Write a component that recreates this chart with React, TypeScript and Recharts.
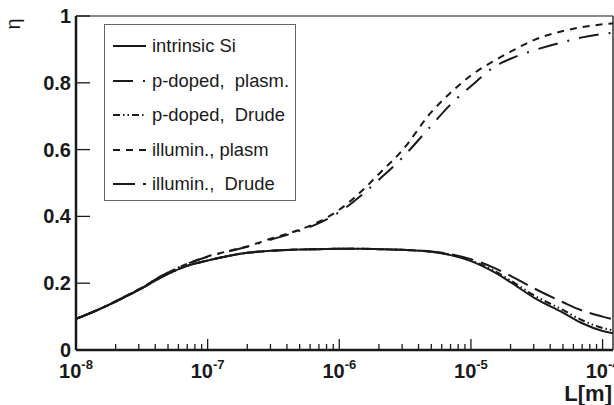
import { LineChart, Line, XAxis, YAxis, Legend, ReferenceLine } from "recharts";

// length L [m], log spaced
const lengths = [
  1e-8, 1.5e-8, 2e-8, 3e-8, 5e-8, 7e-8, 1e-7, 1.5e-7, 2e-7, 3e-7, 5e-7, 7e-7, 1e-6,
  1.5e-6, 2e-6, 3e-6, 5e-6, 7e-6, 1e-5, 1.5e-5, 2e-5, 3e-5, 5e-5, 7e-5, 1e-4, 1.2e-4,
];

const intrinsicSi = [
  0.093, 0.122, 0.145, 0.18, 0.228, 0.252, 0.268, 0.283, 0.291, 0.297, 0.301, 0.302, 0.303,
  0.303, 0.302, 0.3, 0.294, 0.284, 0.266, 0.233, 0.203, 0.157, 0.112, 0.08, 0.057, 0.05,
];
const pDopedPlasm = [
  0.093, 0.122, 0.146, 0.182, 0.232, 0.258, 0.279, 0.297, 0.309, 0.33, 0.357, 0.38, 0.413,
  0.466, 0.51, 0.575, 0.672, 0.735, 0.79, 0.847, 0.872, 0.897, 0.922, 0.936, 0.946, 0.95,
];
const pDopedDrude = [
  0.093, 0.122, 0.145, 0.18, 0.228, 0.252, 0.268, 0.283, 0.291, 0.297, 0.301, 0.302, 0.303,
  0.303, 0.302, 0.3, 0.294, 0.285, 0.268, 0.237, 0.208, 0.164, 0.12, 0.089, 0.066, 0.059,
];
const illuminPlasm = [
  0.093, 0.122, 0.146, 0.182, 0.232, 0.258, 0.28, 0.298, 0.31, 0.333, 0.36, 0.384, 0.42,
  0.478, 0.527, 0.597, 0.712, 0.77, 0.822, 0.866, 0.893, 0.928, 0.955, 0.967, 0.975, 0.978,
];
const illuminDrude = [
  0.093, 0.122, 0.145, 0.18, 0.228, 0.252, 0.268, 0.283, 0.291, 0.297, 0.301, 0.302, 0.303,
  0.303, 0.302, 0.3, 0.295, 0.287, 0.272, 0.246, 0.222, 0.185, 0.143, 0.118, 0.1, 0.092,
];

const seriesNames = ["intrinsic Si", "p-doped,  plasm.", "p-doped,  Drude", "illumin., plasm", "illumin.,  Drude"];
const seriesKeys = ["intrinsic", "pPlasm", "pDrude", "iPlasm", "iDrude"];
const seriesValues = [intrinsicSi, pDopedPlasm, pDopedDrude, illuminPlasm, illuminDrude];
const seriesDash = ["", "20 10 2 10", "7 3 1.5 3 1.5 3", "7 6", "22 8"];

const majorX = [1e-8, 1e-7, 1e-6, 1e-5, 1e-4];
const minorX = [-8, -7, -6, -5].flatMap((e) => [2, 3, 4, 5, 6, 7, 8, 9].map((m) => m * Math.pow(10, e)));
const xTicks = [...majorX, ...minorX].sort((a, b) => a - b);
const yTicks = [0, 0.2, 0.4, 0.6, 0.8, 1];

const FONT = '"Liberation Sans", Arial, Helvetica, sans-serif';
const INK = "#1a1a1a";

const rows = lengths.map((L, i) => {
  const r: Record<string, number> = { L };
  seriesKeys.forEach((k, j) => (r[k] = seriesValues[j][i]));
  return r;
});

const XTick = (props: any) => {
  const { x, y, payload } = props;
  const v = payload.value as number;
  const exp = Math.round(Math.log10(v));
  const major = Math.abs(v - Math.pow(10, exp)) / v < 1e-6;
  return (
    <g>
      <line x1={x} x2={x} y1={y} y2={y - (major ? 11 : 6)} stroke={INK} strokeWidth={1.3} />
      {major && (
        <text x={x} y={y + 28} textAnchor="middle" fontFamily={FONT} fontWeight="bold" fontSize={20} fill={INK}>
          10
          <tspan dy={-9} fontSize={13}>
            {exp}
          </tspan>
        </text>
      )}
    </g>
  );
};

const YTick = (props: any) => {
  const { x, y, payload } = props;
  return (
    <g>
      <line x1={x} x2={x + 14} y1={y} y2={y} stroke={INK} strokeWidth={1.3} />
      <text x={x - 5} y={y + 7} textAnchor="end" fontFamily={FONT} fontWeight="bold" fontSize={20} fill={INK}>
        {payload.value}
      </text>
    </g>
  );
};

const LegendBox = () => (
  <div
    style={{
      position: "relative",
      width: 192,
      height: 177,
      boxSizing: "border-box",
      border: "1.5px solid #666",
      background: "#fff",
      fontFamily: FONT,
      fontSize: 18.4,
      color: INK,
    }}
  >
    {seriesNames.map((name, i) => (
      <div key={name} style={{ position: "absolute", left: 0, top: 10 + 34.5 * i, height: 22, width: 190 }}>
        <svg width={46} height={22} style={{ position: "absolute", left: 0, top: 0 }}>
          <line x1={8} x2={41} y1={11} y2={11} stroke={INK} strokeWidth={2} strokeDasharray={seriesDash[i]} />
        </svg>
        <span style={{ position: "absolute", left: 47, top: 0, lineHeight: "22px", whiteSpace: "pre" }}>{name}</span>
      </div>
    ))}
  </div>
);

export default function App() {
  return (
    <div style={{ position: "absolute", left: 0, top: 0, width: 614, height: 405, background: "#fff" }}>
      <LineChart width={614} height={405} data={rows} margin={{ top: 16, right: 1, bottom: 0, left: 0 }}>
        <XAxis
          dataKey="L"
          type="number"
          scale="log"
          domain={[1e-8, 1.2e-4]}
          allowDataOverflow
          ticks={xTicks}
          interval={0}
          height={55}
          tickSize={0}
          tickMargin={0}
          tickLine={false}
          axisLine={{ stroke: INK, strokeWidth: 2.5 }}
          tick={<XTick />}
          label={({ viewBox }: any) => (
            <text
              x={viewBox.x + viewBox.width - 1}
              y={viewBox.y + viewBox.height - 4}
              textAnchor="end"
              fontFamily={FONT}
              fontWeight="bold"
              fontSize={22}
              fill={INK}
            >
              L[m]
            </text>
          )}
        />
        <YAxis
          type="number"
          domain={[0, 1]}
          ticks={yTicks}
          interval={0}
          width={76}
          tickSize={0}
          tickMargin={0}
          tickLine={false}
          axisLine={{ stroke: INK, strokeWidth: 2.5 }}
          tick={<YTick />}
          label={({ viewBox }: any) => (
            <text
              x={20}
              y={viewBox.y + 8}
              transform={`rotate(-90 20 ${viewBox.y + 8})`}
              textAnchor="middle"
              fontFamily={FONT}
              fontSize={20}
              fill={INK}
            >
              η
            </text>
          )}
        />
        <ReferenceLine y={1} stroke="#666" strokeWidth={1.5} />
        <ReferenceLine x={1.2e-4} stroke="#333" strokeWidth={1.5} />
        <Legend
          layout="vertical"
          align="center"
          verticalAlign="middle"
          wrapperStyle={{ left: 104, top: 24, width: 192, height: 177 }}
          content={() => <LegendBox />}
        />
        {seriesKeys.map((k, i) => (
          <Line
            key={k}
            dataKey={k}
            name={seriesNames[i]}
            type="monotone"
            stroke={INK}
            strokeWidth={2}
            strokeDasharray={seriesDash[i] || undefined}
            dot={false}
            isAnimationActive={false}
          />
        ))}
      </LineChart>
    </div>
  );
}
